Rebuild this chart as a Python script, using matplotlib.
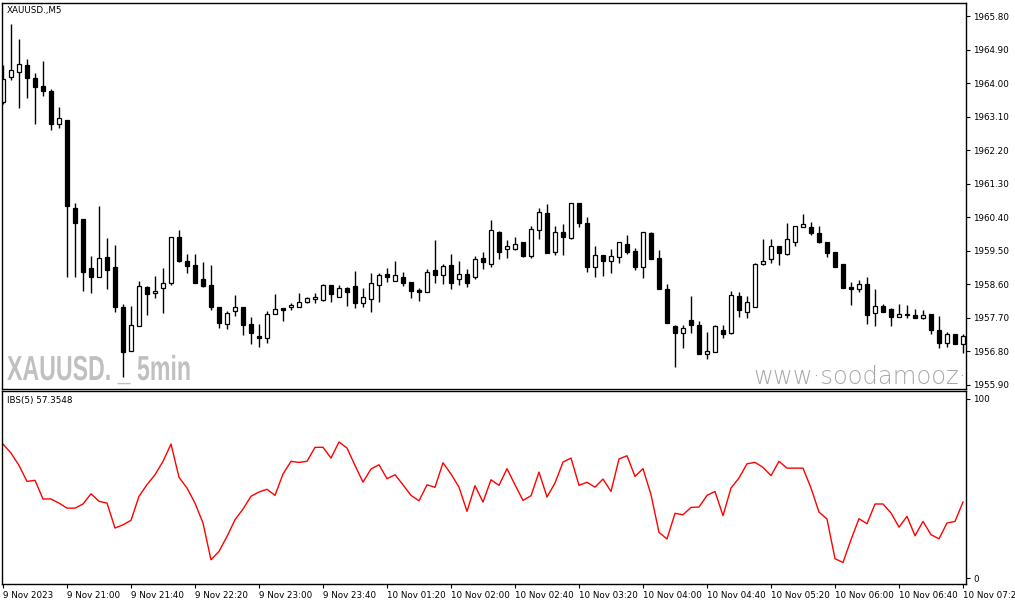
import numpy as np
import matplotlib.pyplot as plt
from matplotlib import patheffects
from matplotlib.transforms import Affine2D

# XAUUSD M5 candles
opens = [1963.50, 1964.16, 1964.30, 1964.49, 1964.14, 1963.93, 1963.80, 1962.90, 1963.02, 1960.64,
	1960.37, 1959.03, 1958.81, 1959.33, 1959.06, 1957.98, 1956.81, 1957.48, 1958.52, 1958.36,
	1958.49, 1958.65, 1959.87, 1959.23, 1959.12, 1958.74, 1958.58, 1957.98, 1957.53, 1957.88,
	1957.98, 1957.53, 1957.21, 1957.15, 1957.80, 1957.96, 1957.98, 1957.98, 1958.12, 1958.20,
	1958.18, 1958.58, 1958.27, 1958.51, 1958.55, 1958.10, 1958.20, 1958.58, 1958.88, 1958.70,
	1958.79, 1958.66, 1958.45, 1958.39, 1958.98, 1958.84, 1959.11, 1958.74, 1958.87, 1958.79,
	1959.30, 1959.14, 1960.01, 1959.56, 1959.56, 1959.74, 1959.37, 1960.06, 1960.51, 1959.48,
	1960.00, 1959.85, 1960.78, 1960.24, 1959.06, 1959.38, 1959.24, 1959.33, 1959.68, 1959.50,
	1959.07, 1959.97, 1959.30, 1958.47, 1957.48, 1957.30, 1957.64, 1957.51, 1956.72, 1956.79,
	1957.38, 1957.30, 1958.29, 1957.85, 1958.00, 1959.15, 1959.27, 1959.63, 1959.41, 1959.75,
	1960.13, 1960.13, 1959.97, 1959.75, 1959.46, 1959.15, 1958.52, 1958.48, 1958.60, 1957.82,
	1958.02, 1957.94, 1957.72, 1957.80, 1957.78, 1957.71, 1957.80, 1957.37, 1957.02, 1957.26,
	1957.00]
highs = [1964.49, 1965.60, 1965.18, 1964.66, 1964.27, 1964.60, 1963.85, 1963.37, 1963.02, 1960.80,
	1960.37, 1959.36, 1960.71, 1959.84, 1959.66, 1958.07, 1958.02, 1958.70, 1958.57, 1958.82,
	1959.03, 1959.87, 1960.06, 1959.43, 1959.42, 1959.21, 1959.12, 1957.98, 1957.89, 1958.31,
	1957.98, 1957.73, 1957.53, 1957.89, 1958.34, 1957.96, 1958.11, 1958.36, 1958.27, 1958.38,
	1958.60, 1958.58, 1958.58, 1958.54, 1958.97, 1958.50, 1958.90, 1958.90, 1959.03, 1959.23,
	1958.92, 1958.66, 1958.51, 1959.01, 1959.79, 1959.15, 1959.42, 1959.23, 1959.01, 1959.36,
	1959.48, 1960.33, 1960.03, 1959.79, 1959.88, 1959.74, 1960.17, 1960.64, 1960.76, 1960.17,
	1960.22, 1960.80, 1960.78, 1960.40, 1959.63, 1959.38, 1959.54, 1959.73, 1959.92, 1959.57,
	1960.00, 1960.00, 1959.52, 1958.60, 1957.51, 1957.51, 1958.29, 1957.62, 1957.32, 1957.51,
	1957.51, 1958.43, 1958.40, 1958.29, 1959.17, 1959.81, 1959.81, 1959.63, 1960.24, 1960.17,
	1960.49, 1960.27, 1960.17, 1959.75, 1959.46, 1959.15, 1958.67, 1958.72, 1958.79, 1958.47,
	1958.07, 1957.96, 1958.07, 1958.04, 1957.94, 1957.91, 1957.80, 1957.75, 1957.32, 1957.26,
	1957.27]
lows = [1963.45, 1964.09, 1963.33, 1963.62, 1962.91, 1963.66, 1962.75, 1962.81, 1958.81, 1958.81,
	1958.43, 1958.38, 1958.81, 1958.48, 1957.87, 1956.11, 1956.81, 1957.48, 1957.78, 1958.23,
	1957.84, 1958.59, 1959.21, 1958.90, 1958.65, 1958.54, 1957.91, 1957.42, 1957.39, 1957.75,
	1957.24, 1956.99, 1956.91, 1957.02, 1957.80, 1957.62, 1957.91, 1957.98, 1958.09, 1958.09,
	1958.16, 1958.14, 1958.25, 1958.01, 1957.96, 1958.00, 1957.87, 1958.14, 1958.67, 1958.70,
	1958.56, 1958.24, 1958.16, 1958.39, 1958.65, 1958.61, 1958.47, 1958.58, 1958.54, 1958.74,
	1959.01, 1959.08, 1959.28, 1959.32, 1959.52, 1959.34, 1959.31, 1959.82, 1959.45, 1959.39,
	1959.39, 1959.82, 1960.15, 1958.94, 1958.81, 1958.83, 1958.91, 1959.18, 1959.41, 1958.98,
	1958.78, 1959.29, 1958.47, 1957.55, 1956.39, 1956.90, 1957.30, 1956.72, 1956.59, 1956.79,
	1957.17, 1957.26, 1957.73, 1957.71, 1958.00, 1959.12, 1959.17, 1959.12, 1959.39, 1959.64,
	1960.13, 1959.93, 1959.72, 1959.34, 1959.07, 1958.50, 1958.05, 1958.40, 1957.54, 1957.48,
	1957.87, 1957.48, 1957.72, 1957.69, 1957.69, 1957.66, 1957.28, 1956.88, 1956.91, 1957.00,
	1956.75]
closes = [1964.12, 1964.35, 1964.51, 1964.15, 1963.91, 1963.80, 1962.91, 1963.08, 1960.71, 1960.24,
	1958.94, 1958.81, 1959.30, 1959.00, 1957.98, 1956.79, 1957.51, 1958.57, 1958.33, 1958.42,
	1958.65, 1959.87, 1959.24, 1959.10, 1958.65, 1958.56, 1958.00, 1957.57, 1957.82, 1957.98,
	1957.51, 1957.29, 1957.15, 1957.80, 1957.94, 1957.91, 1958.05, 1958.12, 1958.23, 1958.26,
	1958.58, 1958.33, 1958.50, 1958.40, 1958.10, 1958.26, 1958.63, 1958.85, 1958.81, 1958.85,
	1958.65, 1958.43, 1958.40, 1958.92, 1958.86, 1959.09, 1958.65, 1958.87, 1958.65, 1959.27,
	1959.21, 1960.06, 1959.48, 1959.63, 1959.68, 1959.37, 1960.08, 1960.54, 1959.45, 1960.00,
	1959.88, 1960.80, 1960.26, 1959.07, 1959.38, 1959.24, 1959.36, 1959.73, 1959.48, 1959.07,
	1960.00, 1959.29, 1958.47, 1957.55, 1957.30, 1957.42, 1957.51, 1956.72, 1956.82, 1957.48,
	1957.26, 1958.31, 1957.90, 1958.12, 1959.15, 1959.23, 1959.63, 1959.45, 1959.81, 1960.17,
	1960.21, 1959.97, 1959.75, 1959.45, 1959.07, 1958.51, 1958.47, 1958.61, 1957.78, 1958.02,
	1957.87, 1957.73, 1957.80, 1957.79, 1957.69, 1957.78, 1957.37, 1957.02, 1957.27, 1957.00,
	1957.21]

# IBS(5) indicator values
ibs = [74.7, 69.7, 62.8, 53.9, 54.5, 44.1, 44.1, 41.8, 39.0, 39.0,
	41.3, 47.0, 42.8, 41.8, 27.9, 29.7, 32.2, 45.6, 52.1, 57.6,
	65.1, 74.7, 56.2, 50.2, 41.8, 30.7, 10.2, 14.9, 23.2, 32.5,
	38.5, 45.6, 48.0, 49.5, 46.1, 58.0, 65.1, 64.5, 65.1, 72.9,
	72.9, 66.9, 75.9, 72.5, 62.8, 53.5, 60.8, 63.2, 55.4, 57.6,
	52.0, 46.1, 43.1, 52.0, 50.6, 64.3, 58.0, 50.7, 37.2, 51.5,
	42.4, 54.8, 51.7, 61.0, 52.0, 43.3, 45.9, 59.1, 45.2, 53.0,
	64.7, 66.9, 51.7, 53.4, 50.7, 55.2, 48.3, 66.4, 68.2, 56.7,
	61.0, 46.5, 25.5, 21.8, 36.1, 35.3, 39.4, 39.6, 46.1, 48.3,
	34.8, 50.2, 55.8, 63.7, 64.5, 61.7, 57.1, 65.1, 61.3, 61.3,
	61.3, 50.2, 36.8, 32.9, 10.8, 8.7, 21.4, 33.1, 30.3, 41.3,
	41.3, 36.3, 28.4, 34.4, 23.6, 31.6, 24.2, 21.9, 30.7, 31.6,
	42.4]

price_ticks = [1955.90, 1956.80, 1957.70, 1958.60, 1959.50, 1960.40,
	1961.30, 1962.20, 1963.10, 1964.00, 1964.90, 1965.80]
time_labels = ['9 Nov 2023', '9 Nov 21:00', '9 Nov 21:40', '9 Nov 22:20', '9 Nov 23:00',
	'9 Nov 23:40', '10 Nov 01:20', '10 Nov 02:00', '10 Nov 02:40', '10 Nov 03:20',
	'10 Nov 04:00', '10 Nov 04:40', '10 Nov 05:20', '10 Nov 06:00', '10 Nov 06:40',
	'10 Nov 07:20']
label_every = 8


class Squeeze(patheffects.AbstractPathEffect):
	# narrow the glyphs horizontally (no condensed bold font installed)
	def __init__(self, sx):
		super().__init__()
		self.sx = sx

	def draw_path(self, renderer, gc, tpath, affine, rgbFace=None):
		renderer.draw_path(gc, tpath, Affine2D().scale(self.sx, 1.0) + affine, rgbFace)


fs = 6.3
plt.rcParams['font.family'] = ['DejaVu Sans']

fig = plt.figure(figsize=(10.15, 6.05), dpi=100)
W, H = 1015.0, 605.0
ax = fig.add_axes([2 / W, 1 - 389 / H, 964 / W, 386 / H])
ax2 = fig.add_axes([2 / W, 1 - 584 / H, 964 / W, 193 / H])

x = np.arange(len(opens))
o = np.array(opens)
c = np.array(closes)
up = c >= o

ax.vlines(x, lows, highs, color='black', linewidth=1.0, zorder=1)
ax.bar(x, np.abs(c - o), bottom=np.minimum(o, c), width=0.52,
	color=np.where(up, 'white', 'black'), edgecolor='black', linewidth=0.9, zorder=2)

ax.set_xlim(-0.125, 120.375)
ax.set_ylim(1955.79, 1966.16)
ax.set_xticks([])
ax.yaxis.tick_right()
ax.set_yticks(price_ticks)
ax.set_yticklabels(['%.2f' % p for p in price_ticks])
ax.tick_params(axis='y', direction='out', length=3, width=0.8, pad=2, labelsize=fs)

ax.text(5 / 964, 1 - 8 / 386, 'XAUUSD.,M5', transform=ax.transAxes, fontsize=fs, va='center')
wm = ax.text(5 / 964, 9 / 386, 'XAUUSD. _ 5min', transform=ax.transAxes, fontsize=25,
	fontweight='bold', color='#c0c0c0', va='baseline', zorder=0.5,
	family=['Liberation Sans', 'DejaVu Sans'])
wm.set_path_effects([Squeeze(0.667)])
ax.text(751 / 964, 5 / 386, 'www\u00b7soodamooz\u00b7com', transform=ax.transAxes, fontsize=17.5,
	color='#a8a8a8', va='baseline', fontweight='light', clip_on=True, zorder=0.5)

# indicator panel
ax2.plot(x, ibs, color='#ff0000', linewidth=1.0)
ax2.set_xlim(-0.125, 120.375)
ax2.set_ylim(-3.3, 104.3)
ax2.yaxis.tick_right()
ax2.set_yticks([0, 100])
ax2.set_yticklabels(['0', '100'])
ax2.tick_params(axis='y', direction='out', length=3, width=0.8, pad=2, labelsize=fs)
ax2.set_xticks(np.arange(len(time_labels)) * label_every)
ax2.set_xticklabels(time_labels, ha='left')
ax2.tick_params(axis='x', direction='out', length=3, width=0.8, pad=2, labelsize=fs)
ax2.text(5 / 964, 1 - 9.7 / 193, 'IBS(5) 57.3548', transform=ax2.transAxes, fontsize=fs, va='center')

for a in (ax, ax2):
	for s in a.spines.values():
		s.set_color('black')
		s.set_linewidth(1.0)

fig.savefig('out.png', dpi=100)
